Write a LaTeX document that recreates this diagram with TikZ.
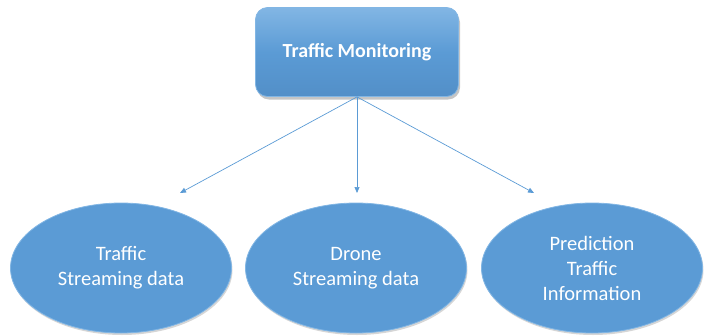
\documentclass[tikz,border=0pt]{standalone}
\usepackage{fontspec}
\setmainfont{Carlito}
\usetikzlibrary{shadows,arrows.meta,shapes.geometric}
\definecolor{ofblue}{RGB}{91,155,213}
\definecolor{oflight}{RGB}{130,182,228}
\definecolor{ofdark}{RGB}{82,143,200}
\tikzset{
  topbox/.style={draw=oflight, line width=0.8pt, rounded corners=12pt, top color=oflight, bottom color=ofdark, middle color=ofblue,
    minimum width=203pt, minimum height=89pt, text=white, font=\fontsize{20}{24}\selectfont\bfseries,
    drop shadow={shadow xshift=1.5pt, shadow yshift=-3pt, fill=black!45, opacity=0.5}},
  oval/.style={ellipse, draw=oflight, line width=0.8pt, fill=ofblue, minimum width=221pt, minimum height=130pt,
    text=white, font=\fontsize{20.5}{25}\selectfont, align=center, inner sep=0pt,
    drop shadow={shadow xshift=1pt, shadow yshift=-2pt, fill=black!40, opacity=0.4}},
  link/.style={draw=ofblue, line width=0.7pt, -{Triangle[length=6pt,width=5pt]}}
}
\begin{document}
\begin{tikzpicture}[x=1pt,y=1pt]
\useasboundingbox (0,0) rectangle (709,-335);
\node[topbox] (tm) at (357,-52) {Traffic Monitoring};
\coordinate (a1) at (180,-193);
\coordinate (a2) at (357,-193);
\coordinate (a3) at (534,-193);
\node[oval] (e1) at (121,-268) {Traffic\\Streaming data};
\node[oval] (e2) at (356,-268) {Drone\\Streaming data};
\node[oval] (e3) at (592,-268) {Prediction\\Traffic\\Information};
\draw[link] (tm.south) -- (a1);
\draw[link] (tm.south) -- (a2);
\draw[link] (tm.south) -- (a3);
\end{tikzpicture}
\end{document}
